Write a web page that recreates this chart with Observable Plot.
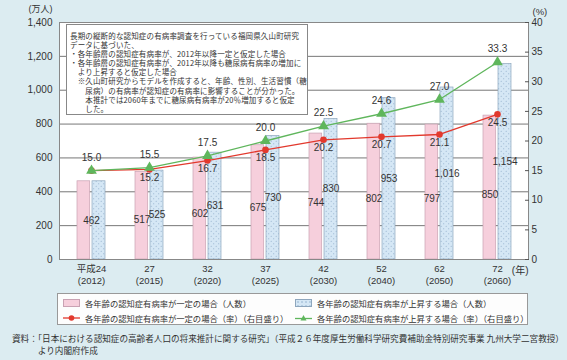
<!DOCTYPE html>
<html><head><meta charset="utf-8">
<script src="https://cdn.jsdelivr.net/npm/d3@7"></script>
<script src="https://cdn.jsdelivr.net/npm/@observablehq/plot@0.6"></script>
<style>
body{margin:0;background:#dcecf1;font-family:"Noto Sans CJK JP",sans-serif;color:#333;}
#wrap{position:relative;width:567px;height:360px;overflow:hidden;}
#chart{position:absolute;left:0;top:0;}
#note{position:absolute;left:66px;top:24px;width:237px;height:89px;background:#fff;border:1px solid #888;font-size:7.5px;letter-spacing:0.15px;line-height:9.1px;padding:0 0 0 3px;box-sizing:content-box;white-space:pre;}
#note .in{padding-top:6px;}
#legend{position:absolute;left:57px;top:293px;width:469px;height:30px;background:#fdfdfd;border:1px solid #999;font-size:8.3px;}
.item{position:absolute;display:flex;align-items:center;white-space:nowrap;}
.sw{width:17px;height:8px;margin-right:5px;box-sizing:border-box;}
#caption{position:absolute;left:12px;top:332px;font-size:8.6px;line-height:12px;white-space:pre;color:#333;}
</style></head><body>
<div id="wrap">
<div id="chart"></div>
<div id="note"><div class="in">長期の縦断的な認知症の有病率調査を行っている福岡県久山町研究
データに基づいた、
・各年齢層の認知症有病率が、2012年以降一定と仮定した場合
・各年齢層の認知症有病率が、2012年以降も糖尿病有病率の増加に
　より上昇すると仮定した場合
　※久山町研究からモデルを作成すると、年齢、性別、生活習慣（糖
　　尿病）の有病率が認知症の有病率に影響することが分かった。
　　本推計では2060年までに糖尿病有病率が20％増加すると仮定
　　した。</div></div>
<div id="legend"></div>
<div id="caption">資料：「日本における認知症の高齢者人口の将来推計に関する研究」（平成２６年度厚生労働科学研究費補助金特別研究事業 九州大学二宮教授）
　　　より内閣府作成</div>
</div>
<script>
const categories = ["平成24", "27", "32", "37", "42", "52", "62", "72"];
const westernYears = ["2012", "2015", "2020", "2025", "2030", "2040", "2050", "2060"];
const peopleConst = [462, 517, 602, 675, 744, 802, 797, 850];
const peopleRise = [462, 525, 631, 730, 830, 953, 1016, 1154];
const rateConst = [15.0, 15.2, 16.7, 18.5, 20.2, 20.7, 21.1, 24.5];
const rateRise = [15.0, 15.5, 17.5, 20.0, 22.5, 24.6, 27.0, 33.3];
const leftTicks = [0, 200, 400, 600, 800, 1000, 1200, 1400];
const rightTicks = [0, 5, 10, 15, 20, 25, 30, 35, 40];
const legendLabels = [
  "各年齢の認知症有病率が一定の場合（人数）",
  "各年齢の認知症有病率が上昇する場合（人数）",
  "各年齢の認知症有病率が一定の場合（率）（右目盛り）",
  "各年齢の認知症有病率が上昇する場合（率）（右目盛り）"
];

const PINK = "#f6cfdc", PINK_S = "#c9a2b3", BLUE = "#d5e7f5", BLUE_S = "#8ea6bd";
const RED = "#e2392d", GREEN = "#5fb65c";
const K = 1400 / 40; // right-axis (%) to left-axis units

const rows = categories.map((c, i) => ({
  cat: c, west: westernYears[i], pc: peopleConst[i], pr: peopleRise[i],
  rc: rateConst[i] * K, rr: rateRise[i] * K, rcv: rateConst[i], rrv: rateRise[i], i
}));
const fmt = d3.format(",");

const chart = Plot.plot({
  width: 567, height: 288,
  marginTop: 22, marginBottom: 29, marginLeft: 59, marginRight: 39,
  style: {fontSize: "10px", fontFamily: "'Liberation Sans', 'Noto Sans CJK JP', sans-serif", color: "#333", background: "transparent"},
  x: {type: "band", domain: categories, paddingInner: 0.52, paddingOuter: 0.26},
  y: {domain: [0, 1400]},
  marks: [
    Plot.frame({fill: "white", stroke: null}),
    Plot.gridY(leftTicks, {stroke: "#777", strokeOpacity: 1, strokeWidth: 1}),
    Plot.barY(rows, {x: "cat", y: "pc", fill: PINK, stroke: PINK_S, strokeWidth: 0.7, insetRight: 15.3}),
    Plot.barY(rows, {x: "cat", y: "pr", fill: "url(#dots)", stroke: BLUE_S, strokeWidth: 0.7, insetLeft: 15}),
    Plot.text(rows.filter(d => d.i > 0), {x: "cat", y: d => d.pc * 0.45, text: d => fmt(d.pc), dx: -7.5}),
    Plot.text(rows.filter(d => d.i > 0), {x: "cat", y: d => d.pr * 0.5, text: d => fmt(d.pr), dx: 7.5}),
    Plot.text(rows.filter(d => d.i === 0), {x: "cat", y: d => d.pc * 0.5, text: d => fmt(d.pc)}),
    Plot.line(rows, {x: "cat", y: "rc", stroke: RED, strokeWidth: 1.3}),
    Plot.dot(rows, {x: "cat", y: "rc", r: 3.3, fill: RED, stroke: null}),
    Plot.line(rows, {x: "cat", y: "rr", stroke: GREEN, strokeWidth: 1.3}),
    Plot.dot(rows, {x: "cat", y: "rr", r: 4, symbol: "triangle", fill: GREEN, stroke: null}),
    Plot.text(rows, {x: "cat", y: "rr", text: d => d.rrv.toFixed(1), dy: -13}),
    Plot.text(rows.filter(d => d.i > 0), {x: "cat", y: "rc", text: d => d.rcv.toFixed(1), dy: 8}),
    Plot.frame({stroke: "#888"}),
    Plot.axisY(leftTicks, {anchor: "left", tickSize: 0, tickPadding: 7, tickFormat: d => fmt(d), label: null}),
    Plot.axisY(rightTicks.map(d => d * K), {anchor: "right", tickSize: -4, tickPadding: 7, tickFormat: d => String(d / K), label: null, stroke: "#555"}),
    Plot.axisX({tickSize: 0, tickPadding: 4, fontSize: 9.5, lineHeight: 1.25, tickFormat: (d) => `${d}\n(${westernYears[categories.indexOf(d)]})`, label: null}),
    Plot.text(["(年)"], {frameAnchor: "bottom-right", lineAnchor: "middle", dy: 11, dx: 0, textAnchor: "end"}),
    Plot.text(["(万人)"], {frameAnchor: "top-left", lineAnchor: "middle", dy: -13, dx: -7, textAnchor: "end", fontSize: 9}),
    Plot.text(["(%)"], {frameAnchor: "top-right", lineAnchor: "middle", dy: -11, dx: 4, textAnchor: "start", fontSize: 9.5})
  ]
});

// dot pattern for rising-rate bars
const svgns = "http://www.w3.org/2000/svg";
const defs = document.createElementNS(svgns, "defs");
defs.innerHTML = `<pattern id="dots" width="5" height="5" patternUnits="userSpaceOnUse">
  <rect width="5" height="5" fill="${BLUE}"/><circle cx="1.2" cy="1.2" r="0.55" fill="#93b0cc"/><circle cx="3.7" cy="3.7" r="0.55" fill="#93b0cc"/></pattern>`;
chart.insertBefore(defs, chart.firstChild);
document.getElementById("chart").appendChild(chart);

// legend
const lg = document.getElementById("legend");
const sw = [
  `<div class="sw" style="background:${PINK};border:1px solid ${PINK_S}"></div>`,
  `<div class="sw" style="background-color:${BLUE};background-image:radial-gradient(#93b0cc 0.6px, transparent 0.8px);background-size:4px 4px;border:1px solid ${BLUE_S}"></div>`,
  `<svg width="17" height="8" style="margin-right:5px"><line x1="0" y1="4" x2="17" y2="4" stroke="${RED}" stroke-width="1.3"/><circle cx="8.5" cy="4" r="2.8" fill="${RED}"/></svg>`,
  `<svg width="17" height="8" style="margin-right:5px"><line x1="0" y1="4.5" x2="17" y2="4.5" stroke="${GREEN}" stroke-width="1.3"/><path d="M8.5,1 L11.5,6.5 L5.5,6.5 Z" fill="${GREEN}"/></svg>`
];
const pos = [[5, 3], [237, 3], [5, 18], [237, 18]];
legendLabels.forEach((t, i) => {
  const d = document.createElement("div");
  d.className = "item";
  d.style.left = pos[i][0] + "px";
  d.style.top = pos[i][1] + "px";
  d.innerHTML = sw[i] + `<span>${t}</span>`;
  lg.appendChild(d);
});
</script>
</body></html>
